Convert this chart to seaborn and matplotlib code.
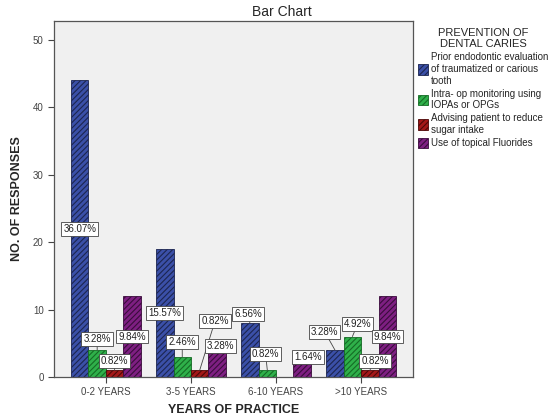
import pandas as pd
import numpy as np
import matplotlib.pyplot as plt
import seaborn as sns

# data (number of responses, n = 122)
years = ['0-2 YEARS', '3-5 YEARS', '6-10 YEARS', '>10 YEARS']
methods = ['Prior endodontic evaluation\nof traumatized or carious\ntooth',
           'Intra- op monitoring using\nIOPAs or OPGs',
           'Advising patient to reduce\nsugar intake',
           'Use of topical Fluorides']
prior_eval = [44, 19, 8, 4]
intra_op = [4, 3, 1, 6]
advising = [1, 1, 0, 1]
fluorides = [12, 4, 2, 12]
total = 122

colors = ['#3b50a8', '#2fb04a', '#a31818', '#7e1f82']
edge_colors = ['#1c2550', '#156b25', '#4d0808', '#3a0c3c']

# label positions (y in data units, x shift in group units), SPSS-style callouts
label_y = [[22, 5.6, 2.4, 6], [9.5, 5.2, 8.3, 4.6], [9.3, 3.4, None, 3.0], [6.7, 7.8, 2.4, 6]]
label_dx = [[0, 0, 0, 0], [0, 0, 0.18, 0.04], [-0.02, -0.02, 0, 0.07], [-0.12, 0.06, 0.06, 0]]

df = pd.DataFrame({
    'years': years * 4,
    'method': np.repeat(methods, 4),
    'count': prior_eval + intra_op + advising + fluorides,
})

sns.set_style('ticks')
plt.rcParams['font.family'] = ['Liberation Sans', 'DejaVu Sans']
plt.rcParams['hatch.linewidth'] = 0.8

fig = plt.figure(figsize=(5.51, 4.2), dpi=100)
ax = fig.add_axes([54 / 551, 1 - 377 / 420, (413 - 54) / 551, (377 - 21) / 420])
ax.set_facecolor('#f0f0f0')

group_w = 0.82
sns.barplot(data=df, x='years', y='count', hue='method', order=years, hue_order=methods,
            palette=colors, width=group_w, saturation=1, ax=ax, legend=True)

bar_w = group_w / 4
for k, cont in enumerate(ax.containers):
    for p in cont.patches:
        p.set_hatch('//////')
        p.set_edgecolor(edge_colors[k])
        p.set_linewidth(0.6)

series = [prior_eval, intra_op, advising, fluorides]
for k, vals in enumerate(series):
    for i, v in enumerate(vals):
        ly = label_y[i][k]
        if ly is None:
            continue
        bx = i - group_w / 2 + bar_w * (k + 0.5)
        lx = bx + label_dx[i][k]
        txt = f'{v / total * 100:.2f}%'
        ax.annotate(txt, xy=(bx, v), xytext=(lx, ly), ha='center', va='center',
                    fontsize=7, color='#222222',
                    bbox=dict(boxstyle='square,pad=0.2', fc='white', ec='#444444', lw=0.6),
                    arrowprops=dict(arrowstyle='-', color='#444444', lw=0.6,
                                    shrinkA=0, shrinkB=0) if ly > v else None,
                    zorder=5)

ax.set_xlim(-0.61, 3.61)
ax.set_ylim(0, 52.8)
ax.set_yticks([0, 10, 20, 30, 40, 50])
ax.tick_params(labelsize=7, colors='#444444', length=4, width=0.8)
for s in ax.spines.values():
    s.set_color('#555555')
    s.set_linewidth(0.9)

ax.set_xlabel('YEARS OF PRACTICE', fontsize=9, fontweight='bold', labelpad=5)
ax.set_ylabel('NO. OF RESPONSES', fontsize=9, fontweight='bold', labelpad=7)
fig.text(282 / 551, 1 - 12 / 420, 'Bar Chart', ha='center', va='center', fontsize=10)

handles, labels = ax.get_legend_handles_labels()
ax.get_legend().remove()
leg = fig.legend(handles, labels, title='PREVENTION OF\nDENTAL CARIES', loc='upper left',
                 bbox_to_anchor=(414 / 551, 1 - 24 / 420), frameon=False, fontsize=7,
                 title_fontsize=8, handlelength=1.0, handleheight=1.3, handletextpad=0.3,
                 labelspacing=0.3, borderaxespad=0)
for k, h in enumerate(leg.legend_handles):
    h.set_hatch('//////')
    h.set_edgecolor(edge_colors[k])
    h.set_linewidth(0.6)
leg.get_title().set_multialignment('center')
leg._legend_box.align = 'center'

fig.savefig('out.png', dpi=100)
